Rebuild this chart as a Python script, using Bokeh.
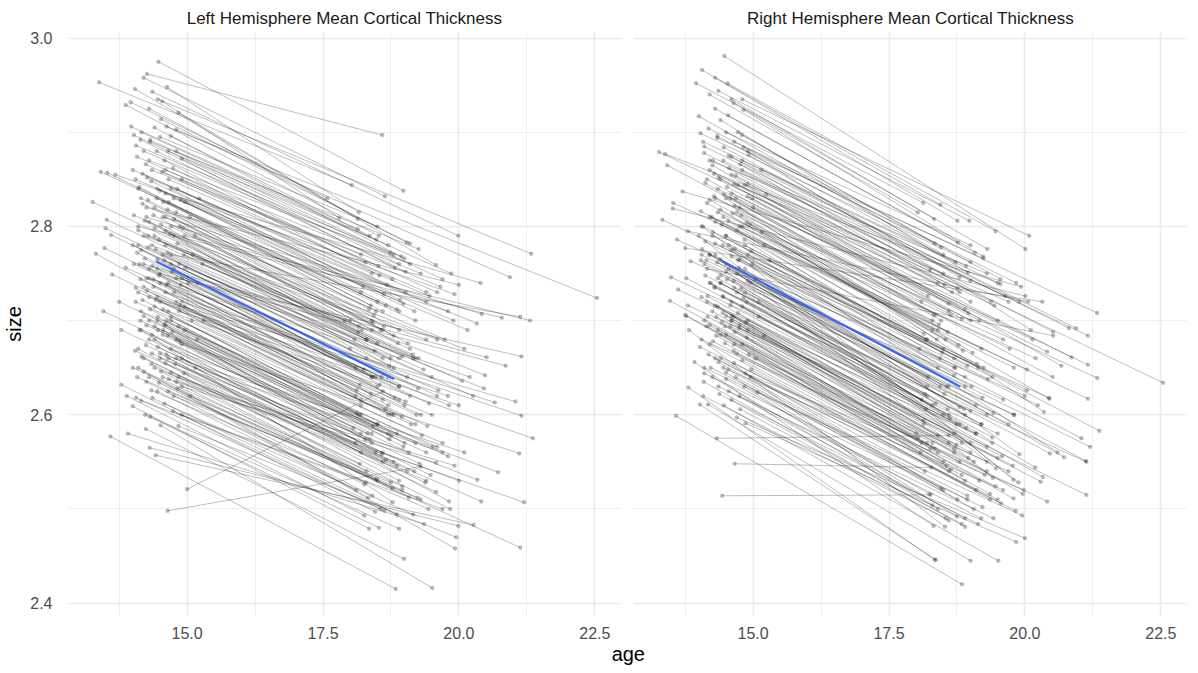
from bokeh.plotting import figure
from bokeh.models import ColumnDataSource, FixedTicker, PrintfTickFormatter, Range1d, Div
from bokeh.layouts import row, column
from bokeh.embed import file_html
from bokeh.resources import INLINE

# (age at visit 1, size at visit 1, age at visit 2, size at visit 2)
left_pairs = [
    (14.47, 2.975, 18.98, 2.838), (14.26, 2.962, 18.59, 2.897), (14.20, 2.958, 18.64, 2.832),
    (13.38, 2.953, 18.03, 2.844), (14.04, 2.946, 18.14, 2.808), (14.36, 2.943, 19.99, 2.790),
    (14.63, 2.948, 18.16, 2.815), (13.96, 2.932, 17.58, 2.830), (13.87, 2.929, 18.53, 2.790),
    (14.30, 2.925, 19.04, 2.783), (14.46, 2.935, 21.33, 2.771), (14.54, 2.933, 17.80, 2.809),
    (14.84, 2.921, 19.58, 2.759), (13.97, 2.906, 18.14, 2.797), (14.40, 2.905, 19.00, 2.766),
    (14.62, 2.906, 22.54, 2.724), (14.80, 2.903, 20.94, 2.746), (14.02, 2.897, 19.70, 2.744),
    (14.14, 2.892, 18.90, 2.760), (13.41, 2.858, 18.20, 2.730), (13.53, 2.857, 18.50, 2.720),
    (13.68, 2.855, 19.92, 2.728), (13.26, 2.826, 17.90, 2.700), (13.52, 2.807, 18.30, 2.680),
    (13.50, 2.798, 18.60, 2.660), (13.60, 2.791, 18.00, 2.670), (13.48, 2.777, 18.40, 2.640),
    (13.32, 2.771, 18.10, 2.620), (13.62, 2.749, 18.70, 2.610), (13.46, 2.710, 18.20, 2.580),
    (13.75, 2.720, 18.50, 2.590), (13.87, 2.756, 18.90, 2.630), (13.79, 2.690, 18.60, 2.560),
    (13.79, 2.632, 18.46, 2.497), (13.89, 2.620, 18.26, 2.493), (14.00, 2.609, 18.35, 2.479),
    (14.23, 2.600, 18.53, 2.480), (14.32, 2.598, 18.90, 2.479), (13.91, 2.580, 19.36, 2.484),
    (13.59, 2.577, 18.84, 2.415), (14.24, 2.585, 18.99, 2.447), (14.51, 2.589, 19.51, 2.416),
    (14.84, 2.588, 19.95, 2.470), (14.31, 2.565, 19.99, 2.482), (14.42, 2.557, 20.27, 2.483),
    (15.00, 2.521, 18.60, 2.625), (14.64, 2.498, 19.30, 2.545), (14.10, 2.650, 19.93, 2.458),
    (14.30, 2.640, 21.13, 2.459), (14.60, 2.655, 20.41, 2.508), (14.80, 2.635, 21.20, 2.507),
    (14.20, 2.660, 19.84, 2.500), (14.50, 2.660, 20.34, 2.531), (14.70, 2.670, 20.72, 2.539),
    (14.90, 2.675, 21.11, 2.559), (14.40, 2.680, 19.82, 2.508), (14.15, 2.690, 18.78, 2.507),
    (14.45, 2.700, 18.47, 2.560), (14.65, 2.710, 21.36, 2.575), (14.90, 2.720, 21.15, 2.599),
    (14.30, 2.725, 21.04, 2.614), (14.60, 2.730, 20.66, 2.613), (14.80, 2.745, 21.15, 2.662),
    (14.50, 2.750, 20.86, 2.652), (14.20, 2.760, 20.51, 2.661), (14.70, 2.770, 21.13, 2.704),
    (14.35, 2.780, 20.48, 2.642), (14.95, 2.790, 21.31, 2.700), (14.10, 2.800, 20.79, 2.703),
    (14.55, 2.810, 20.42, 2.707), (14.25, 2.820, 20.00, 2.738), (14.75, 2.830, 20.33, 2.697),
    (14.45, 2.840, 19.90, 2.700), (14.05, 2.850, 19.40, 2.720), (14.60, 2.860, 19.30, 2.750),
    (14.30, 2.870, 18.80, 2.770), (14.90, 2.850, 19.60, 2.730), (14.15, 2.830, 18.90, 2.690),
    (14.70, 2.800, 18.60, 2.690), (14.40, 2.790, 19.20, 2.660), (14.00, 2.780, 18.30, 2.660),
    (14.55, 2.770, 18.80, 2.650), (14.85, 2.760, 19.50, 2.640), (14.25, 2.745, 18.50, 2.630),
    (14.65, 2.740, 19.00, 2.610), (14.05, 2.735, 18.20, 2.610), (14.45, 2.725, 18.70, 2.600),
    (14.95, 2.715, 19.30, 2.600), (14.20, 2.705, 18.40, 2.580), (14.60, 2.695, 19.00, 2.570),
    (14.35, 2.685, 18.60, 2.550), (14.80, 2.680, 19.40, 2.560), (14.10, 2.670, 18.30, 2.540),
    (14.50, 2.665, 18.90, 2.530), (14.70, 2.645, 19.05, 2.540), (14.25, 2.635, 18.41, 2.514),
    (14.45, 2.625, 18.11, 2.520), (14.75, 2.620, 18.75, 2.528), (14.15, 2.615, 18.29, 2.528),
    (14.90, 2.630, 19.58, 2.549), (14.55, 2.640, 19.92, 2.546), (15.10, 2.770, 19.10, 2.670),
    (15.20, 2.740, 19.60, 2.620), (15.05, 2.810, 18.90, 2.710), (15.30, 2.700, 19.20, 2.590),
    (15.15, 2.650, 19.70, 2.560), (14.00, 2.860, 18.40, 2.750), (14.35, 2.860, 18.20, 2.770),
    (14.65, 2.880, 18.70, 2.780), (14.20, 2.880, 19.10, 2.760), (14.50, 2.895, 18.50, 2.800),
    (14.10, 2.840, 18.60, 2.710), (14.40, 2.820, 18.40, 2.700), (14.80, 2.815, 19.20, 2.700),
    (14.30, 2.805, 18.00, 2.700), (14.60, 2.795, 18.30, 2.680), (14.15, 2.775, 18.70, 2.640),
    (14.45, 2.765, 18.10, 2.650), (14.75, 2.755, 18.40, 2.640), (14.30, 2.755, 19.10, 2.620),
    (14.90, 2.745, 18.90, 2.630), (14.05, 2.720, 18.80, 2.600), (14.40, 2.715, 18.20, 2.600),
    (14.70, 2.700, 18.50, 2.590), (14.25, 2.695, 19.20, 2.570), (14.55, 2.685, 18.40, 2.570),
    (14.95, 2.690, 18.70, 2.580), (14.35, 2.665, 18.80, 2.550), (14.65, 2.660, 18.20, 2.560),
    (14.00, 2.650, 18.50, 2.530), (14.30, 2.745, 18.90, 2.660), (14.60, 2.780, 19.40, 2.680),
    (14.20, 2.790, 19.60, 2.680), (14.50, 2.720, 19.80, 2.620), (14.85, 2.710, 20.00, 2.610),
    (14.10, 2.730, 19.50, 2.600), (14.45, 2.755, 20.20, 2.640), (14.75, 2.790, 20.10, 2.670),
    (14.25, 2.810, 19.80, 2.710), (14.60, 2.835, 20.40, 2.740), (14.15, 2.710, 19.70, 2.570),
    (14.80, 2.660, 20.10, 2.560), (14.40, 2.650, 19.40, 2.530), (14.65, 2.625, 19.30, 2.510),
    (14.90, 2.600, 19.70, 2.500),
    (14.12, 2.842, 18.35, 2.712), (14.28, 2.828, 18.62, 2.694), (14.38, 2.812, 18.88, 2.676),
    (14.52, 2.802, 18.15, 2.688), (14.68, 2.792, 18.45, 2.668), (14.82, 2.782, 18.72, 2.652),
    (14.08, 2.772, 18.25, 2.648), (14.22, 2.766, 18.55, 2.632), (14.36, 2.758, 18.82, 2.618),
    (14.48, 2.748, 18.38, 2.622), (14.62, 2.738, 18.65, 2.606), (14.76, 2.730, 18.95, 2.598),
    (14.18, 2.722, 18.12, 2.602), (14.32, 2.712, 18.42, 2.588), (14.46, 2.704, 18.72, 2.574),
    (14.58, 2.696, 18.98, 2.566), (14.72, 2.688, 18.28, 2.574), (14.86, 2.678, 18.58, 2.558),
    (14.04, 2.668, 18.86, 2.546), (14.16, 2.662, 18.18, 2.548), (14.34, 2.654, 18.48, 2.532),
    (14.52, 2.646, 18.78, 2.522), (14.66, 2.638, 19.08, 2.512), (14.82, 2.628, 18.33, 2.512),
    (14.06, 2.618, 18.63, 2.498), (14.28, 2.790, 19.15, 2.664), (14.42, 2.776, 19.35, 2.648),
    (14.58, 2.764, 19.05, 2.640), (14.72, 2.752, 19.25, 2.628), (14.88, 2.738, 19.45, 2.612),
    (14.14, 2.744, 19.02, 2.614), (14.26, 2.732, 19.22, 2.600), (14.42, 2.722, 19.42, 2.588),
    (14.56, 2.712, 19.12, 2.590), (14.70, 2.704, 19.32, 2.578), (14.84, 2.694, 19.52, 2.566),
    (14.12, 2.690, 19.08, 2.560), (14.30, 2.680, 19.28, 2.548), (14.46, 2.672, 19.48, 2.536),
    (14.62, 2.664, 19.18, 2.540), (14.78, 2.654, 19.38, 2.528), (14.94, 2.644, 19.58, 2.518),
    (14.02, 2.812, 18.42, 2.698), (14.18, 2.856, 18.68, 2.738), (14.34, 2.848, 18.92, 2.722),
    (14.50, 2.838, 19.18, 2.710), (14.66, 2.826, 18.38, 2.716), (14.82, 2.840, 18.62, 2.728),
    (14.96, 2.826, 18.86, 2.712), (14.08, 2.874, 18.52, 2.758), (14.24, 2.866, 18.78, 2.744),
    (14.44, 2.880, 19.02, 2.752), (14.58, 2.870, 18.28, 2.762), (14.74, 2.862, 18.54, 2.748),
    (14.90, 2.872, 18.82, 2.756), (14.16, 2.900, 18.48, 2.786), (14.32, 2.892, 18.74, 2.772),
    (14.52, 2.914, 19.10, 2.782), (14.70, 2.896, 18.36, 2.790), (14.10, 2.796, 18.96, 2.662),
    (14.22, 2.806, 18.16, 2.694), (14.40, 2.798, 18.50, 2.676), (14.60, 2.810, 18.80, 2.684),
    (14.76, 2.808, 19.06, 2.676), (14.92, 2.798, 18.40, 2.690), (14.20, 2.736, 18.60, 2.616),
    (14.50, 2.740, 18.90, 2.616), (14.80, 2.720, 18.20, 2.616), (14.14, 2.700, 18.76, 2.578),
    (14.40, 2.694, 18.06, 2.586), (14.64, 2.684, 18.36, 2.574), (14.90, 2.660, 18.66, 2.552),
    (14.20, 2.646, 18.96, 2.524), (14.48, 2.634, 18.26, 2.526), (14.74, 2.604, 18.56, 2.500),
    (14.36, 2.618, 18.86, 2.494), (14.58, 2.612, 19.16, 2.494), (14.12, 2.760, 19.62, 2.626),
    (14.38, 2.744, 19.82, 2.610), (14.64, 2.772, 20.06, 2.636), (14.86, 2.800, 19.74, 2.680),
    (14.26, 2.852, 19.46, 2.726), (14.54, 2.858, 19.66, 2.736), (14.80, 2.880, 19.86, 2.750),
    (14.44, 2.830, 20.16, 2.690), (14.70, 2.760, 20.26, 2.620), (14.96, 2.756, 20.46, 2.628),
    (14.30, 2.700, 19.60, 2.566), (14.56, 2.690, 19.80, 2.556), (14.84, 2.640, 20.00, 2.530),
    (14.08, 2.640, 19.24, 2.512), (14.34, 2.626, 19.44, 2.500), (15.08, 2.700, 18.76, 2.600),
    (15.14, 2.790, 18.56, 2.690), (15.22, 2.830, 19.02, 2.730), (15.02, 2.740, 18.46, 2.640),
    (15.18, 2.680, 18.86, 2.580), (15.28, 2.760, 19.26, 2.660), (15.06, 2.620, 18.96, 2.520),
    (14.48, 2.786, 18.22, 2.690), (14.64, 2.818, 18.48, 2.710), (14.02, 2.760, 18.58, 2.640),
    (14.28, 2.778, 18.08, 2.680), (14.70, 2.840, 18.24, 2.736), (14.18, 2.824, 18.44, 2.706),
    (14.46, 2.690, 18.32, 2.580), (14.24, 2.674, 18.10, 2.570), (14.62, 2.700, 18.16, 2.600),
    (14.86, 2.716, 18.12, 2.626), (14.38, 2.736, 18.18, 2.632), (14.10, 2.780, 18.74, 2.660),
    (14.56, 2.826, 18.66, 2.716), (14.88, 2.828, 18.98, 2.718), (14.32, 2.890, 19.26, 2.776),
    (14.06, 2.886, 18.94, 2.768), (14.66, 2.850, 19.40, 2.730), (14.94, 2.770, 19.16, 2.660),
]

right_pairs = [
    (14.47, 2.981, 20.01, 2.776), (14.06, 2.966, 18.45, 2.823), (14.30, 2.958, 18.76, 2.806),
    (13.95, 2.952, 18.13, 2.825), (14.53, 2.952, 19.46, 2.795), (14.36, 2.944, 18.98, 2.806),
    (14.20, 2.940, 18.03, 2.815), (14.60, 2.935, 18.33, 2.808), (14.80, 2.935, 20.08, 2.790),
    (14.64, 2.931, 19.31, 2.776), (14.82, 2.924, 19.23, 2.768), (14.30, 2.925, 18.77, 2.783),
    (14.00, 2.917, 18.50, 2.770), (14.40, 2.913, 18.95, 2.751), (14.79, 2.897, 19.55, 2.744),
    (14.03, 2.899, 19.00, 2.762), (13.27, 2.879, 18.40, 2.740), (13.38, 2.877, 19.55, 2.739),
    (13.42, 2.865, 18.10, 2.720), (13.70, 2.837, 19.93, 2.736), (13.53, 2.825, 18.30, 2.700),
    (13.52, 2.819, 20.01, 2.726), (13.33, 2.807, 18.50, 2.670), (13.80, 2.795, 20.06, 2.720),
    (13.60, 2.786, 18.70, 2.650), (13.75, 2.777, 20.32, 2.720), (13.85, 2.763, 18.90, 2.640),
    (13.49, 2.746, 18.20, 2.620), (13.77, 2.745, 18.60, 2.600), (13.62, 2.733, 18.80, 2.590),
    (13.47, 2.721, 18.00, 2.580), (13.75, 2.706, 18.40, 2.560), (13.80, 2.716, 19.10, 2.580),
    (13.77, 2.705, 18.50, 2.550), (13.82, 2.690, 18.53, 2.481), (13.92, 2.656, 18.32, 2.482),
    (14.09, 2.635, 18.90, 2.481), (13.81, 2.629, 18.34, 2.446), (14.02, 2.611, 18.36, 2.446),
    (14.17, 2.611, 19.00, 2.445), (14.46, 2.610, 19.51, 2.445), (13.58, 2.599, 18.84, 2.420),
    (14.33, 2.575, 18.60, 2.578), (14.66, 2.548, 18.28, 2.544), (14.43, 2.514, 18.27, 2.515),
    (14.86, 2.591, 19.84, 2.465), (14.70, 2.597, 20.00, 2.469), (14.10, 2.650, 19.95, 2.493),
    (14.30, 2.660, 19.83, 2.498), (14.50, 2.645, 18.75, 2.492), (14.70, 2.665, 20.41, 2.508),
    (14.20, 2.675, 19.36, 2.510), (14.40, 2.685, 19.79, 2.511), (14.90, 2.690, 21.13, 2.515),
    (14.60, 2.700, 20.29, 2.529), (14.25, 2.710, 19.96, 2.516), (14.80, 2.715, 20.33, 2.534),
    (14.45, 2.725, 21.13, 2.550), (14.65, 2.735, 20.19, 2.544), (14.95, 2.740, 21.12, 2.551),
    (14.35, 2.745, 20.46, 2.559), (14.55, 2.755, 21.20, 2.566), (14.75, 2.765, 21.04, 2.575),
    (14.20, 2.770, 20.72, 2.555), (14.85, 2.780, 21.37, 2.583), (14.50, 2.790, 20.60, 2.560),
    (14.05, 2.800, 19.90, 2.558), (14.30, 2.805, 21.16, 2.617), (14.70, 2.815, 21.33, 2.639),
    (14.15, 2.825, 20.45, 2.617), (14.60, 2.835, 21.16, 2.653), (14.90, 2.845, 22.54, 2.634),
    (14.40, 2.850, 20.86, 2.661), (14.80, 2.860, 21.16, 2.684), (14.25, 2.865, 20.67, 2.652),
    (14.55, 2.875, 20.94, 2.692), (14.65, 2.890, 21.33, 2.708), (14.10, 2.885, 20.81, 2.692),
    (14.45, 2.870, 20.52, 2.688), (14.90, 2.880, 20.11, 2.690), (14.35, 2.840, 20.41, 2.667),
    (14.75, 2.820, 20.51, 2.640), (14.20, 2.810, 20.04, 2.648), (14.50, 2.830, 20.35, 2.603),
    (14.00, 2.790, 19.47, 2.543), (14.30, 2.770, 19.41, 2.533), (14.60, 2.775, 19.79, 2.531),
    (14.85, 2.755, 19.88, 2.528), (14.15, 2.755, 20.52, 2.684), (14.40, 2.740, 18.90, 2.600),
    (14.70, 2.730, 19.20, 2.590), (14.05, 2.725, 18.60, 2.570), (14.35, 2.715, 19.00, 2.570),
    (14.60, 2.705, 18.70, 2.560), (14.90, 2.700, 19.40, 2.570), (14.20, 2.695, 18.80, 2.550),
    (14.50, 2.685, 19.30, 2.550), (14.80, 2.675, 18.90, 2.530), (14.10, 2.700, 18.20, 2.570),
    (14.40, 2.660, 18.50, 2.520), (14.65, 2.655, 19.10, 2.520), (14.95, 2.640, 19.50, 2.510),
    (14.25, 2.640, 18.40, 2.500), (14.55, 2.625, 18.90, 2.490), (14.75, 2.620, 19.20, 2.490),
    (15.05, 2.660, 19.70, 2.540), (15.10, 2.720, 19.30, 2.600), (15.20, 2.780, 19.80, 2.650),
    (15.00, 2.820, 19.50, 2.700), (15.15, 2.860, 19.90, 2.720), (14.30, 2.830, 18.60, 2.710),
    (14.60, 2.855, 18.80, 2.730), (14.15, 2.850, 19.00, 2.700), (14.45, 2.810, 18.30, 2.690),
    (14.80, 2.800, 19.20, 2.670), (14.25, 2.790, 18.70, 2.660), (14.55, 2.780, 18.40, 2.650),
    (14.05, 2.770, 18.90, 2.630), (14.40, 2.765, 18.60, 2.630), (14.70, 2.750, 18.20, 2.630),
    (14.30, 2.735, 19.10, 2.610), (14.60, 2.720, 18.50, 2.600), (14.90, 2.770, 19.40, 2.640),
    (14.20, 2.740, 18.30, 2.610), (14.50, 2.705, 18.70, 2.580), (14.75, 2.695, 19.00, 2.560),
    (14.35, 2.690, 18.10, 2.570), (14.65, 2.675, 18.60, 2.540), (14.05, 2.680, 19.30, 2.540),
    (14.45, 2.650, 19.60, 2.520), (14.85, 2.730, 19.80, 2.600), (14.15, 2.720, 19.50, 2.580),
    (14.50, 2.760, 20.00, 2.620), (14.75, 2.800, 20.20, 2.660), (14.35, 2.815, 19.60, 2.680),
    (14.65, 2.845, 19.70, 2.720), (14.20, 2.870, 19.30, 2.750), (14.50, 2.900, 19.00, 2.780),
    (14.80, 2.870, 19.50, 2.740), (14.10, 2.760, 19.70, 2.590),
    (14.12, 2.846, 18.32, 2.706), (14.28, 2.832, 18.58, 2.688), (14.40, 2.818, 18.86, 2.668),
    (14.54, 2.806, 18.18, 2.680), (14.70, 2.796, 18.44, 2.660), (14.84, 2.786, 18.70, 2.642),
    (14.06, 2.776, 18.22, 2.640), (14.20, 2.770, 18.52, 2.622), (14.34, 2.762, 18.80, 2.608),
    (14.50, 2.752, 18.36, 2.612), (14.64, 2.742, 18.62, 2.596), (14.78, 2.734, 18.92, 2.586),
    (14.16, 2.726, 18.14, 2.594), (14.30, 2.716, 18.40, 2.578), (14.44, 2.708, 18.70, 2.564),
    (14.60, 2.700, 18.96, 2.554), (14.74, 2.692, 18.26, 2.564), (14.88, 2.682, 18.56, 2.546),
    (14.02, 2.672, 18.84, 2.536), (14.18, 2.664, 18.16, 2.540), (14.36, 2.656, 18.46, 2.522),
    (14.54, 2.648, 18.76, 2.510), (14.68, 2.640, 19.06, 2.500), (14.84, 2.630, 18.30, 2.504),
    (14.08, 2.620, 18.60, 2.488), (14.26, 2.794, 19.12, 2.654), (14.44, 2.780, 19.32, 2.638),
    (14.60, 2.768, 19.02, 2.630), (14.74, 2.756, 19.22, 2.618), (14.90, 2.742, 19.42, 2.602),
    (14.12, 2.748, 19.00, 2.604), (14.28, 2.736, 19.20, 2.590), (14.44, 2.726, 19.40, 2.576),
    (14.58, 2.716, 19.10, 2.580), (14.72, 2.708, 19.30, 2.566), (14.86, 2.698, 19.50, 2.554),
    (14.14, 2.694, 19.06, 2.550), (14.32, 2.684, 19.26, 2.536), (14.48, 2.676, 19.46, 2.524),
    (14.64, 2.668, 19.16, 2.530), (14.80, 2.658, 19.36, 2.516), (14.96, 2.648, 19.56, 2.506),
    (14.04, 2.816, 18.40, 2.690), (14.20, 2.860, 18.66, 2.730), (14.36, 2.852, 18.90, 2.712),
    (14.52, 2.842, 19.16, 2.700), (14.68, 2.830, 18.36, 2.706), (14.84, 2.844, 18.60, 2.718),
    (14.98, 2.830, 18.84, 2.702), (14.10, 2.878, 18.50, 2.750), (14.26, 2.870, 18.76, 2.734),
    (14.46, 2.884, 19.00, 2.742), (14.60, 2.874, 18.26, 2.754), (14.76, 2.866, 18.52, 2.738),
    (14.92, 2.876, 18.80, 2.746), (14.18, 2.904, 18.46, 2.778), (14.34, 2.896, 18.72, 2.762),
    (14.54, 2.918, 19.08, 2.772), (14.72, 2.900, 18.34, 2.782), (14.08, 2.800, 18.94, 2.652),
    (14.24, 2.810, 18.14, 2.686), (14.42, 2.802, 18.48, 2.666), (14.62, 2.814, 18.78, 2.674),
    (14.78, 2.812, 19.04, 2.666), (14.94, 2.802, 18.38, 2.680), (14.22, 2.740, 18.58, 2.606),
    (14.52, 2.744, 18.88, 2.606), (14.82, 2.724, 18.18, 2.606), (14.16, 2.704, 18.74, 2.568),
    (14.42, 2.698, 18.04, 2.576), (14.66, 2.688, 18.34, 2.564), (14.92, 2.664, 18.64, 2.542),
    (14.22, 2.650, 18.94, 2.514), (14.50, 2.638, 18.24, 2.516), (14.76, 2.606, 18.54, 2.490),
    (14.38, 2.622, 18.84, 2.484), (14.60, 2.616, 19.14, 2.484), (14.14, 2.764, 19.60, 2.616),
    (14.40, 2.748, 19.80, 2.600), (14.66, 2.776, 20.04, 2.626), (14.88, 2.804, 19.72, 2.670),
    (14.28, 2.856, 19.44, 2.716), (14.56, 2.862, 19.64, 2.726), (14.82, 2.884, 19.84, 2.740),
    (14.46, 2.834, 20.14, 2.680), (14.72, 2.764, 20.24, 2.610), (14.98, 2.760, 20.44, 2.618),
    (14.32, 2.704, 19.58, 2.556), (14.58, 2.694, 19.78, 2.546), (14.86, 2.644, 19.98, 2.520),
    (14.10, 2.644, 19.22, 2.502), (14.36, 2.630, 19.42, 2.490), (15.10, 2.704, 18.74, 2.590),
    (15.16, 2.794, 18.54, 2.680), (15.24, 2.834, 19.00, 2.720), (15.04, 2.744, 18.44, 2.630),
    (15.20, 2.684, 18.84, 2.570), (15.30, 2.764, 19.24, 2.650), (15.08, 2.624, 18.94, 2.510),
    (14.50, 2.790, 18.20, 2.680), (14.66, 2.822, 18.46, 2.700), (14.04, 2.764, 18.56, 2.630),
    (14.30, 2.782, 18.06, 2.670), (14.72, 2.844, 18.22, 2.726), (14.20, 2.828, 18.42, 2.696),
    (14.48, 2.694, 18.30, 2.570), (14.26, 2.678, 18.08, 2.560), (14.64, 2.704, 18.14, 2.590),
    (14.88, 2.720, 18.10, 2.616), (14.40, 2.740, 18.16, 2.622), (14.12, 2.784, 18.72, 2.650),
    (14.58, 2.830, 18.64, 2.706), (14.90, 2.832, 18.96, 2.708), (14.34, 2.894, 19.24, 2.766),
    (14.08, 2.890, 18.92, 2.758), (14.68, 2.854, 19.38, 2.720), (14.96, 2.774, 19.14, 2.650),
]

# linear fit (blue line) endpoints
fit_age = [14.43, 18.81]
fit_left = [2.763, 2.638]
fit_right = [2.763, 2.630]

titles = ["Left Hemisphere Mean Cortical Thickness", "Right Hemisphere Mean Cortical Thickness"]
x_ticks = [15.0, 17.5, 20.0, 22.5]
x_minor = [13.75, 16.25, 18.75, 21.25]
y_ticks = [2.4, 2.6, 2.8, 3.0]
y_minor = [2.5, 2.7, 2.9]

FONT = "Liberation Sans"
GRID = "#EBEBEB"


def make_panel(title, pairs, fit_y, first):
    a1, s1, a2, s2 = map(list, zip(*pairs))
    p = figure(
        frame_width=554, frame_height=585,
        x_range=Range1d(12.80, 22.99), y_range=Range1d(2.3858, 3.007),
        output_backend="svg", toolbar_location=None, title=title,
        min_border_left=61 if first else 6, min_border_right=6 if first else 0,
        min_border_top=31, min_border_bottom=22,
        outline_line_color=None, background_fill_color="white", border_fill_color="white",
    )
    p.title.text_font = FONT
    p.title.text_font_size = "17px"
    p.title.text_font_style = "normal"
    p.title.text_color = "#1A1A1A"
    p.title.align = "center"
    p.title.standoff = 7

    seg = ColumnDataSource(dict(x0=a1, y0=s1, x1=a2, y1=s2))
    p.segment("x0", "y0", "x1", "y1", source=seg, line_color="black", line_alpha=0.3, line_width=0.85)
    pts = ColumnDataSource(dict(x=a1 + a2, y=s1 + s2))
    p.scatter("x", "y", source=pts, size=4, fill_color="black", fill_alpha=0.26,
              line_color="black", line_alpha=0.14, line_width=0.5)
    p.line(fit_age, fit_y, line_color="#3366FF", line_width=2)

    xt = FixedTicker(ticks=x_ticks, minor_ticks=x_minor)
    yt = FixedTicker(ticks=y_ticks, minor_ticks=y_minor)
    p.xaxis.ticker = xt
    p.yaxis.ticker = yt
    p.xgrid.ticker = xt
    p.ygrid.ticker = yt
    for g in (p.xgrid, p.ygrid):
        g.grid_line_color = GRID
        g.grid_line_width = 1.6
        g.minor_grid_line_color = GRID
        g.minor_grid_line_width = 0.8
    for ax in (p.xaxis, p.yaxis):
        ax.formatter = PrintfTickFormatter(format="%.1f")
        ax.axis_line_color = None
        ax.major_tick_line_color = None
        ax.minor_tick_line_color = None
        ax.major_label_text_font = FONT
        ax.major_label_text_font_size = "16px"
        ax.major_label_text_color = "#4D4D4D"
    p.xaxis.major_label_standoff = 4
    p.yaxis.major_label_standoff = 9
    if first:
        p.yaxis.axis_label = "size"
        p.yaxis.axis_label_text_font = FONT
        p.yaxis.axis_label_text_font_size = "20px"
        p.yaxis.axis_label_text_font_style = "normal"
        p.yaxis.axis_label_text_color = "black"
        p.yaxis.axis_label_standoff = 2
    else:
        p.yaxis.visible = False
    return p


pL = make_panel(titles[0], left_pairs, fit_left, True)
pR = make_panel(titles[1], right_pairs, fit_right, False)

age_label = Div(text="age", width=640, height=17,
                styles={"text-align": "right", "font-size": "20px", "line-height": "17px",
                        "font-family": "'Liberation Sans', Arial, sans-serif", "color": "black"})

layout = column(row(pL, pR), age_label)
open("out.html", "w").write(file_html(layout, INLINE))
